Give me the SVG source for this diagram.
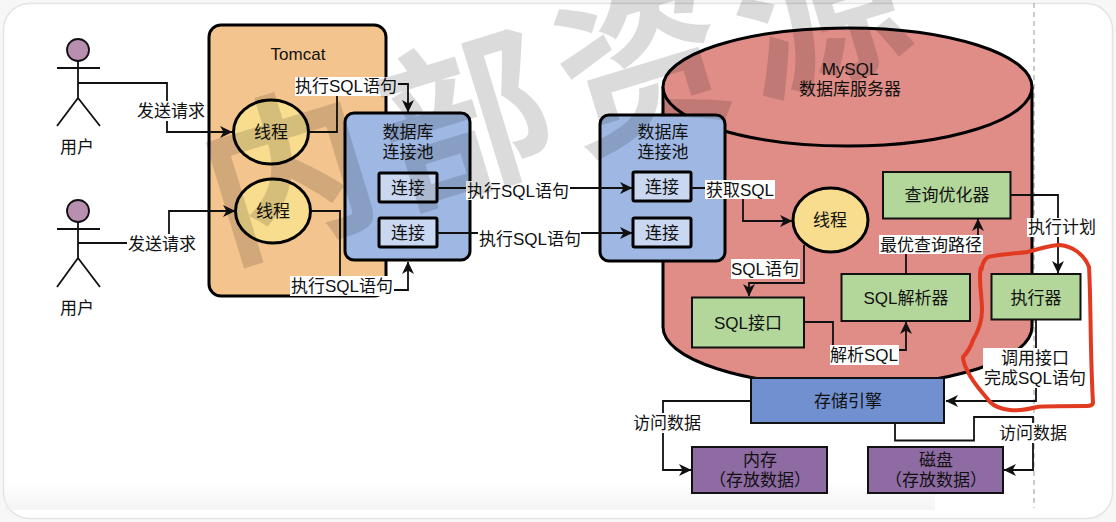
<svg xmlns="http://www.w3.org/2000/svg" width="1116" height="522" viewBox="0 0 1116 522">
<style>
text{font-family:"Liberation Sans","Noto Sans CJK SC",sans-serif;font-size:17px;fill:#111;text-anchor:middle}
.s3{stroke:#000;stroke-width:3}
.s2{stroke:#111;stroke-width:2}
.thr{fill:#f9dd8f;stroke:#000;stroke-width:3}
.pool{fill:#9fb8e3;stroke:#000;stroke-width:3}
.cn{fill:#c9d7f0;stroke:#000;stroke-width:3}
.gr{fill:#b3d79a;stroke:#111;stroke-width:2}
.pu{fill:#8f6ba3;stroke:#111;stroke-width:2}
.ln{fill:none;stroke:#111;stroke-width:1.8}
.ar{marker-end:url(#arr)}
.bg{fill:#fff}
.act{fill:none;stroke:#111;stroke-width:1.8}
</style>
<defs>
<marker id="arr" markerUnits="userSpaceOnUse" markerWidth="14" markerHeight="14" refX="12" refY="7" orient="auto" viewBox="0 0 14 14"><path d="M0 1L12.5 7L0 13L3.5 7Z" fill="#111"/></marker>
<linearGradient id="fade" x1="0" y1="0" x2="1" y2="0"><stop offset="0" stop-color="#efefef"/><stop offset="1" stop-color="#fff"/></linearGradient>
<linearGradient id="fadeV" x1="0" y1="0" x2="0" y2="1"><stop offset="0" stop-color="#fff"/><stop offset="1" stop-color="#ededed"/></linearGradient>
</defs>
<rect width="1116" height="522" fill="#f7f7f7"/>
<rect x="3.5" y="3.5" width="1109" height="515" rx="26" fill="#fff" stroke="#e4e4e4" stroke-width="1.5"/>
<rect x="5" y="480" width="930" height="30" fill="url(#fadeV)" opacity=".6"/>

<line x1="1034" y1="3" x2="1034" y2="508" stroke="#aaa" stroke-width="1.2" stroke-dasharray="5 4"/>

<g id="user1"><circle cx="78" cy="50" r="11" fill="#b98fb0" stroke="#111" stroke-width="1.8"/><path class="act" d="M78 61V98M57 68H100M57 126L78 98L100 126"/><text x="77" y="153">用户</text></g>
<g id="user2"><circle cx="78" cy="211" r="11" fill="#b98fb0" stroke="#111" stroke-width="1.8"/><path class="act" d="M78 222V258M57 229H100M57 287L78 258L100 287"/><text x="77" y="314">用户</text></g>

<g id="tomcat"><rect x="209" y="25" width="177" height="271" rx="12" fill="#f4c48f" class="s3"/><text x="298" y="60">Tomcat</text></g>
<g id="thread1"><ellipse cx="271" cy="132" rx="37.500" ry="32" class="thr"/><text x="271" y="138">线程</text></g>
<g id="thread2"><ellipse cx="273" cy="211" rx="37.500" ry="32" class="thr"/><text x="273" y="217">线程</text></g>

<g id="mysql"><path d="M663 87V327A184.500 59 0 0 0 1032 327V87" fill="#e08d87" class="s3"/><ellipse cx="847.500" cy="87" rx="184.500" ry="59" fill="#e08d87" class="s3"/><text x="850" y="75">MySQL</text><text x="850" y="95">数据库服务器</text></g>

<g id="pool1"><rect x="345" y="113" width="125" height="147" rx="9" class="pool"/><text x="408" y="138">数据库</text><text x="408" y="158">连接池</text></g>
<g id="conn1"><rect x="379" y="173" width="58" height="29" class="cn" rx="1.500"/><text x="408" y="194">连接</text></g>
<g id="conn2"><rect x="379" y="218" width="58" height="29" class="cn" rx="1.500"/><text x="408" y="239">连接</text></g>
<g id="pool2"><rect x="600" y="115" width="125" height="146" rx="9" class="pool"/><text x="663" y="138">数据库</text><text x="663" y="158">连接池</text></g>
<g id="conn3"><rect x="633" y="172" width="58" height="29" class="cn" rx="1.500"/><text x="662" y="193">连接</text></g>
<g id="conn4"><rect x="633" y="218" width="58" height="29" class="cn" rx="1.500"/><text x="662" y="239">连接</text></g>

<g id="thread3"><ellipse cx="830.500" cy="220" rx="37.500" ry="32" class="thr"/><text x="830" y="226">线程</text></g>
<g id="optimizer"><rect x="883" y="172" width="127.500" height="46.500" class="gr"/><text x="947" y="201">查询优化器</text></g>
<g id="parser"><rect x="841.500" y="274" width="128.500" height="47" class="gr"/><text x="906" y="304">SQL解析器</text></g>
<g id="executor"><rect x="991.500" y="274" width="89" height="45.500" class="gr"/><text x="1036" y="304">执行器</text></g>
<g id="sqlif"><rect x="692" y="297.500" width="112" height="50" class="gr"/><text x="748" y="329">SQL接口</text></g>
<g id="storage"><rect x="751" y="378" width="193" height="45" fill="#7090d0" class="s2"/><text x="848" y="407">存储引擎</text></g>
<g id="memory"><rect x="692" y="447" width="135" height="46" class="pu"/><text x="760" y="466">内存</text><text x="760" y="486">（存放数据）</text></g>
<g id="disk"><rect x="868" y="447" width="135" height="46" class="pu"/><text x="936" y="466">磁盘</text><text x="936" y="486">（存放数据）</text></g>

<g id="connectors">
<path class="ln ar" d="M78 83H167V132H232"/>
<path class="ln ar" d="M78 243H169V211H235"/>
<path class="ln ar" d="M309 132H337V84H408V112"/>
<path class="ln ar" d="M311 211H340V290H408V262"/>
<path class="ln ar" d="M437 188H632"/>
<path class="ln ar" d="M437 233H632"/>
<path class="ln ar" d="M691 188H743V221H792"/>
<path class="ln ar" d="M804 245V283H749V296"/>
<path class="ln ar" d="M804 322H833V350H906V322"/>
<path class="ln ar" d="M906 274V240H978V219"/>
<path class="ln ar" d="M1010 195H1058V273"/>
<path class="ln ar" d="M1036 320V401H946"/>
<path class="ln ar" d="M751 401H663V470H691"/>
<path class="ln ar" d="M895 423V440.500H974V417H1033V470H1004"/>
</g>

<g id="labels">
<rect class="bg" x="136" y="101" width="69" height="20"/><text x="171" y="117">发送请求</text>
<rect class="bg" x="127" y="234" width="70" height="20"/><text x="162" y="250">发送请求</text>
<rect class="bg" x="295" y="77" width="103" height="19"/><text x="346" y="92">执行SQL语句</text>
<rect class="bg" x="290" y="276" width="104" height="20"/><text x="342" y="292">执行SQL语句</text>
<rect class="bg" x="466" y="181" width="104" height="19"/><text x="518" y="197">执行SQL语句</text>
<rect class="bg" x="478" y="229" width="103" height="20"/><text x="530" y="245">执行SQL语句</text>
<rect class="bg" x="705" y="180" width="70" height="19"/><text x="740" y="196">获取SQL</text>
<rect class="bg" x="731" y="259" width="69" height="20"/><text x="765" y="275">SQL语句</text>
<rect class="bg" x="830" y="345" width="69" height="20"/><text x="864" y="361">解析SQL</text>
<rect class="bg" x="879" y="235" width="104" height="19"/><text x="931" y="251">最优查询路径</text>
<rect class="bg" x="1027" y="218" width="70" height="19"/><text x="1062" y="233">执行计划</text>
<rect class="bg" x="983" y="348" width="104" height="40"/><text x="1035" y="364">调用接口</text><text x="1035" y="384">完成SQL语句</text>
<rect class="bg" x="632" y="413" width="70" height="20"/><text x="667" y="429">访问数据</text>
<rect class="bg" x="998" y="423" width="70" height="20"/><text x="1033" y="439">访问数据</text>
</g>

<path id="highlight" d="M1060 245C1072 246 1084 254 1089 267C1091 300 1090 350 1093 403C1092 406 1089 406 1087 406C1060 406 1040 406 1037 407C1025 410 1018 411 1010 410C1000 409 995 407 990 402C982 392 972 382 967 370C964 364 963 360 963 357C968 352 971 346 973 340C979 330 982 320 982 310C982 300 980 288 980 277C980 270 981 266 982 267C983 262 985 259 988 257C1000 254 1014 254 1027 252C1040 249 1050 245 1060 245Z" fill="none" stroke="#e23a20" stroke-width="4"/>

<text id="watermark" transform="translate(225 258) rotate(-17)" style="font-size:170px;font-weight:700;fill:#000;fill-opacity:.14;text-anchor:start;letter-spacing:15px">内部资源</text>
</svg>
